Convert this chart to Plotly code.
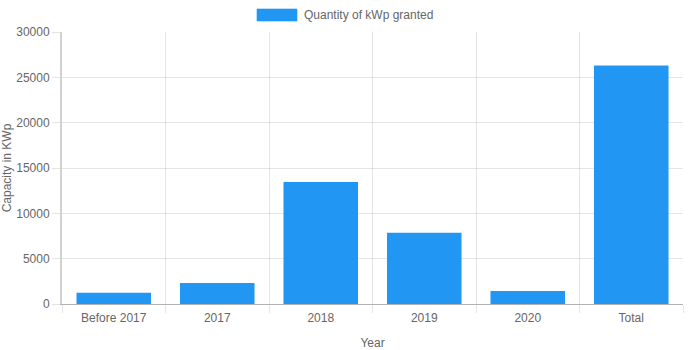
import plotly.graph_objects as go

categories = ["Before 2017", "2017", "2018", "2019", "2020", "Total"]
values = [1250, 2320, 13450, 7860, 1430, 26310]
series_name = "Quantity of kWp granted"
y_title = "Capacity in KWp"
x_title = "Year"

BAR = "#2196F3"
GRID = "rgba(0,0,0,0.1)"
TXT = "#666666"
FONT = "Liberation Sans, Arial, Helvetica, sans-serif"

fig = go.Figure()
fig.add_trace(go.Bar(x=categories, y=values, name=series_name,
                     marker=dict(color=BAR, line=dict(width=0)),
                     showlegend=False, hoverinfo="skip"))

fig.update_layout(
    width=700, height=350,
    margin=dict(l=62, r=17, t=32, b=46),
    paper_bgcolor="white", plot_bgcolor="white",
    font=dict(family=FONT, size=12, color=TXT),
    bargap=0.28,
    showlegend=False,
)
fig.update_xaxes(
    type="category", tickson="boundaries", automargin=False,
    showgrid=True, gridcolor=GRID, gridwidth=1,
    ticks="outside", ticklen=8, tickcolor=GRID, tickwidth=1,
    ticklabelstandoff=3,
    showline=True, linecolor="rgba(0,0,0,0.3)", linewidth=1,
    title=dict(text=x_title, standoff=14, font=dict(size=12, color=TXT)),
    tickfont=dict(size=12, color=TXT),
)
fig.update_yaxes(
    range=[0, 30000], tickvals=[0, 5000, 10000, 15000, 20000, 25000, 30000],
    tickformat="d", automargin=False,
    showgrid=True, gridcolor=GRID, gridwidth=1,
    zeroline=False,
    ticks="outside", ticklen=8, tickcolor=GRID, tickwidth=1,
    showline=True, linecolor="rgba(0,0,0,0.18)", linewidth=2,
    title=dict(text=y_title, standoff=5, font=dict(size=12, color=TXT)),
    tickfont=dict(size=12, color=TXT),
)

# Chart.js-style legend (wide colored box + label), centered on the canvas
fig.add_shape(type="rect", xref="paper", yref="paper",
              x0=(257 - 62) / 621, x1=(297 - 62) / 621,
              y0=(304 - 21) / 272, y1=(304 - 9) / 272,
              fillcolor=BAR, line=dict(color="rgba(33,150,243,0.6)", width=1))
fig.add_annotation(xref="paper", yref="paper",
                   x=(302 - 62) / 621, y=(304 - 15) / 272,
                   xanchor="left", yanchor="middle", showarrow=False,
                   text=series_name, font=dict(size=12, color=TXT))

fig.write_html("out.html")
